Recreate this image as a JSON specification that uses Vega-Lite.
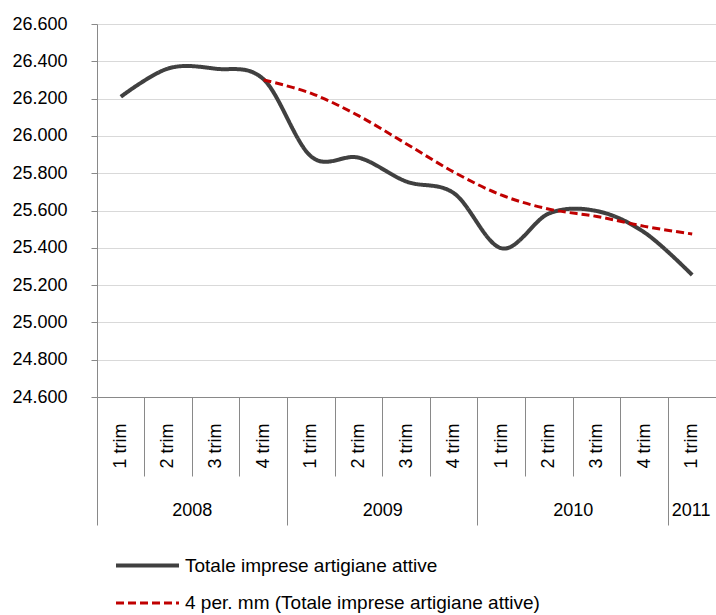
{
  "$schema": "https://vega.github.io/schema/vega-lite/v6.json",
  "width": 619,
  "height": 373,
  "autosize": {"type": "none"},
  "padding": {"left": 97, "top": 24, "right": 0, "bottom": 218},
  "background": "white",
  "config": {
    "view": {"stroke": null},
    "font": "Liberation Sans",
    "axis": {"labelFont": "Liberation Sans", "labelColor": "#000000", "labelFontSize": 18, "labelOverlap": false},
    "legend": {"labelFont": "Liberation Sans", "labelColor": "#000000", "labelFontSize": 19, "labelLimit": 0}
  },
  "data": {
    "values": [
      {"period": "2008 1 trim", "series": "Totale imprese artigiane attive", "value": 26210},
      {"period": "2008 2 trim", "series": "Totale imprese artigiane attive", "value": 26362},
      {"period": "2008 3 trim", "series": "Totale imprese artigiane attive", "value": 26360},
      {"period": "2008 4 trim", "series": "Totale imprese artigiane attive", "value": 26303},
      {"period": "2009 1 trim", "series": "Totale imprese artigiane attive", "value": 25889},
      {"period": "2009 2 trim", "series": "Totale imprese artigiane attive", "value": 25883},
      {"period": "2009 3 trim", "series": "Totale imprese artigiane attive", "value": 25755},
      {"period": "2009 4 trim", "series": "Totale imprese artigiane attive", "value": 25692},
      {"period": "2010 1 trim", "series": "Totale imprese artigiane attive", "value": 25397},
      {"period": "2010 2 trim", "series": "Totale imprese artigiane attive", "value": 25585},
      {"period": "2010 3 trim", "series": "Totale imprese artigiane attive", "value": 25597},
      {"period": "2010 4 trim", "series": "Totale imprese artigiane attive", "value": 25482},
      {"period": "2011 1 trim", "series": "Totale imprese artigiane attive", "value": 25254},
      {"period": "2008 4 trim", "series": "4 per. mm (Totale imprese artigiane attive)", "value": 26300},
      {"period": "2009 1 trim", "series": "4 per. mm (Totale imprese artigiane attive)", "value": 26228},
      {"period": "2009 2 trim", "series": "4 per. mm (Totale imprese artigiane attive)", "value": 26107},
      {"period": "2009 3 trim", "series": "4 per. mm (Totale imprese artigiane attive)", "value": 25957},
      {"period": "2009 4 trim", "series": "4 per. mm (Totale imprese artigiane attive)", "value": 25805},
      {"period": "2010 1 trim", "series": "4 per. mm (Totale imprese artigiane attive)", "value": 25682},
      {"period": "2010 2 trim", "series": "4 per. mm (Totale imprese artigiane attive)", "value": 25607},
      {"period": "2010 3 trim", "series": "4 per. mm (Totale imprese artigiane attive)", "value": 25568},
      {"period": "2010 4 trim", "series": "4 per. mm (Totale imprese artigiane attive)", "value": 25515},
      {"period": "2011 1 trim", "series": "4 per. mm (Totale imprese artigiane attive)", "value": 25474}
    ]
  },
  "resolve": {"axis": {"x": "independent"}},
  "encoding": {
    "y": {
      "field": "value", "type": "quantitative",
      "scale": {"domain": [24600, 26600], "nice": false, "zero": false},
      "axis": {
        "title": null,
        "values": [24600, 24800, 25000, 25200, 25400, 25600, 25800, 26000, 26200, 26400, 26600],
        "labelExpr": "replace(format(datum.value, ','), ',', '.')",
        "labelOverlap": false,
        "grid": true, "gridColor": "#d9d9d9", "gridWidth": 1,
        "domainColor": "#898989", "tickColor": "#898989", "tickSize": 6,
        "labelPadding": 24
      }
    }
  },
  "layer": [
    {
      "transform": [{"filter": "datum.series == 'Totale imprese artigiane attive'"}],
      "mark": {"type": "point", "opacity": 0},
      "encoding": {
        "x": {
          "field": "period", "type": "nominal",
          "scale": {"type": "band", "paddingInner": 0, "paddingOuter": 0,
            "domain": ["2008 1 trim","2008 2 trim","2008 3 trim","2008 4 trim","2009 1 trim","2009 2 trim","2009 3 trim","2009 4 trim","2010 1 trim","2010 2 trim","2010 3 trim","2010 4 trim","2011 1 trim"]},
          "axis": {
            "orient": "bottom", "title": null, "grid": false,
            "bandPosition": 0, "labels": false, "domain": true, "domainColor": "#898989", "domainWidth": 1,
            "ticks": true, "tickColor": "#898989", "tickWidth": 1,
            "tickSize": {"condition": {"test": "substring(datum.value, 5) == '1 trim'", "value": 128}, "value": 79}
          }
        }
      }
    },
    {
      "transform": [{"filter": "datum.series == 'Totale imprese artigiane attive'"}],
      "mark": {"type": "point", "opacity": 0},
      "encoding": {
        "x": {
          "field": "period", "type": "nominal",
          "axis": {
            "orient": "bottom", "title": null, "grid": false,
            "domain": false, "ticks": false, "tickSize": 0,
            "labelAngle": -90, "labelAlign": "right", "labelBaseline": "middle",
            "labelPadding": 26, "labelOverlap": false,
            "labelExpr": "substring(datum.value, 5)"
          }
        }
      }
    },
    {
      "transform": [{"filter": "datum.series == 'Totale imprese artigiane attive'"}],
      "mark": {"type": "point", "opacity": 0},
      "encoding": {
        "x": {
          "field": "period", "type": "nominal",
          "axis": {
            "orient": "bottom", "title": null, "grid": false,
            "domain": false, "ticks": false, "tickSize": 0,
            "labelAngle": 0, "labelAlign": "center", "labelBaseline": "middle",
            "labelPadding": 113, "labelOverlap": false, "labelBound": false,
            "labelOffset": {"condition": {"test": "datum.value == '2011 1 trim'", "value": -1}, "value": -23.8},
            "labelExpr": "substring(datum.value, 5) == '3 trim' ? substring(datum.value, 0, 4) : (datum.value == '2011 1 trim' ? '2011' : '')"
          }
        }
      }
    },
    {
      "mark": {"type": "line", "interpolate": "cardinal"},
      "encoding": {
        "x": {"field": "period", "type": "nominal", "axis": null},
        "color": {
          "field": "series", "type": "nominal",
          "scale": {"domain": ["Totale imprese artigiane attive", "4 per. mm (Totale imprese artigiane attive)"], "range": ["#404040", "#C00000"]},
          "legend": {
            "title": null, "orient": "none", "direction": "vertical",
            "legendX": 38, "legendY": 529, "padding": 0,
            "symbolType": "M-3,0L3,0", "symbolSize": 441,
            "labelOffset": 25, "rowPadding": 15
          }
        },
        "strokeDash": {
          "field": "series", "type": "nominal",
          "scale": {"domain": ["Totale imprese artigiane attive", "4 per. mm (Totale imprese artigiane attive)"], "range": [[1, 0], [8, 4]]},
          "legend": {
            "title": null, "orient": "none", "direction": "vertical",
            "legendX": 38, "legendY": 529, "padding": 0,
            "symbolType": "M-3,0L3,0", "symbolSize": 441,
            "labelOffset": 25, "rowPadding": 15
          }
        },
        "strokeWidth": {
          "field": "series", "type": "nominal",
          "scale": {"domain": ["Totale imprese artigiane attive", "4 per. mm (Totale imprese artigiane attive)"], "range": [4, 3]},
          "legend": {
            "title": null, "orient": "none", "direction": "vertical",
            "legendX": 38, "legendY": 529, "padding": 0,
            "symbolType": "M-3,0L3,0", "symbolSize": 441,
            "labelOffset": 25, "rowPadding": 15
          }
        }
      }
    }
  ]
}
